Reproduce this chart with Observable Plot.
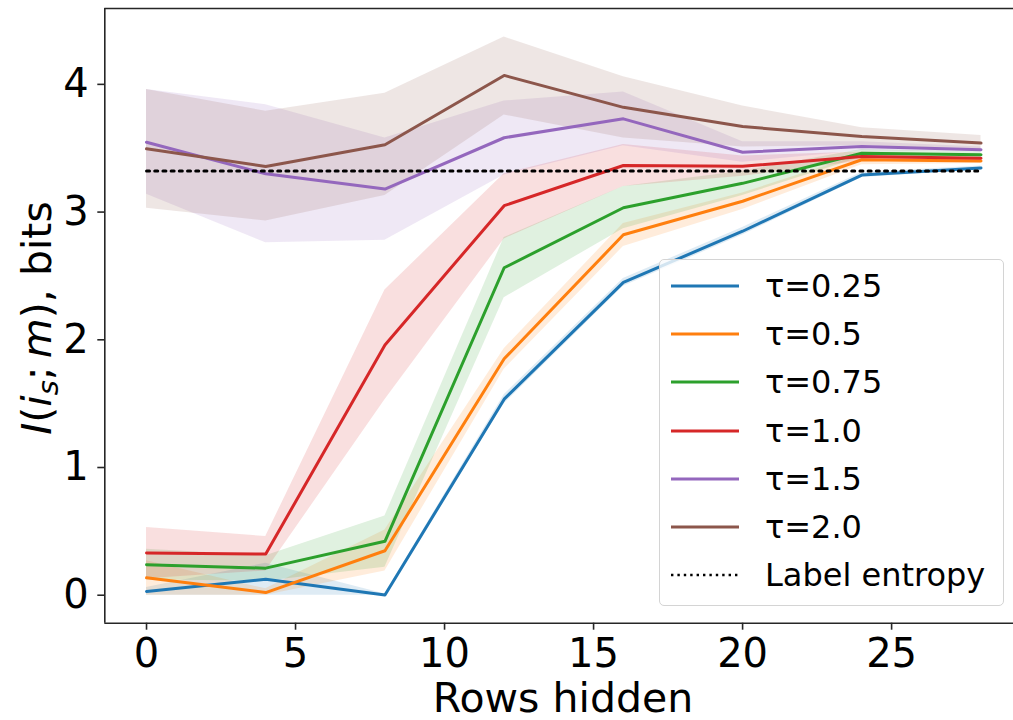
<!DOCTYPE html>
<html>
<head>
<meta charset="utf-8">
<script src="https://cdn.jsdelivr.net/npm/d3@7"></script>
<script src="https://cdn.jsdelivr.net/npm/@observablehq/plot@0.6"></script>
<style>
  body { margin: 0; background: white; }
  #wrap { position: relative; width: 1013px; height: 720px; font-family: "DejaVu Sans", sans-serif; }
  #legend { position: absolute; left: 659px; top: 259px; width: 345px; height: 347px; box-sizing: border-box;
    border: 1.5px solid #d4d4d4; border-radius: 5px; background: rgba(255,255,255,0.8);
    font-family: "DejaVu Sans", sans-serif; font-size: 32px; color: #000; }
  .row { position: absolute; left: 0; height: 48px; display: flex; align-items: center; }
  .row svg { margin-left: 11px; }
  .row span { position: absolute; left: 105px; white-space: nowrap; }
</style>
</head>
<body>
<div id="wrap"></div>
<script>
// Rows hidden (x positions)
const rowsHidden = [0, 4, 8, 12, 16, 20, 24, 28];
const xTicks = [0, 5, 10, 15, 20, 25];
const yTicks = [0, 1, 2, 3, 4];
const labelEntropy = 3.3219;

const tauLabels = ["τ=0.25", "τ=0.5", "τ=0.75", "τ=1.0", "τ=1.5", "τ=2.0"];
const tauColors = ["#1f77b4", "#ff7f0e", "#2ca02c", "#d62728", "#9467bd", "#8c564b"];

// mean values
const mean025 = [0.030, 0.125, 0.002, 1.535, 2.450, 2.850, 3.290, 3.345];
const mean05  = [0.136, 0.021, 0.348, 1.851, 2.822, 3.085, 3.410, 3.400];
const mean075 = [0.238, 0.212, 0.422, 2.564, 3.034, 3.225, 3.461, 3.449];
const mean10  = [0.330, 0.322, 1.960, 3.050, 3.365, 3.358, 3.435, 3.422];
const mean15  = [3.547, 3.300, 3.180, 3.582, 3.730, 3.469, 3.514, 3.488];
const mean20  = [3.496, 3.357, 3.527, 4.070, 3.820, 3.670, 3.592, 3.540];

// band lower / upper
const lo025 = [0.00, 0.00, 0.00, 1.50, 2.42, 2.82, 3.27, 3.33];
const hi025 = [0.06, 0.25, 0.01, 1.57, 2.48, 2.88, 3.31, 3.36];
const lo05  = [0.00, 0.00, 0.19, 1.77, 2.73, 3.02, 3.37, 3.38];
const hi05  = [0.27, 0.05, 0.51, 1.93, 2.91, 3.15, 3.45, 3.42];
const lo075 = [0.12, 0.11, 0.22, 2.33, 2.87, 3.13, 3.43, 3.43];
const hi075 = [0.36, 0.31, 0.62, 2.80, 3.20, 3.32, 3.49, 3.47];
const lo10  = [0.13, 0.19, 1.53, 2.79, 3.20, 3.28, 3.40, 3.40];
const hi10  = [0.53, 0.46, 2.39, 3.30, 3.53, 3.44, 3.47, 3.45];
const lo15  = [3.14, 2.76, 2.78, 3.29, 3.52, 3.39, 3.48, 3.47];
const hi15  = [3.96, 3.84, 3.58, 3.87, 3.94, 3.55, 3.55, 3.51];
const lo20  = [3.03, 2.93, 3.13, 3.76, 3.58, 3.51, 3.52, 3.48];
const hi20  = [3.96, 3.79, 3.93, 4.37, 4.06, 3.83, 3.66, 3.60];

const means = [mean025, mean05, mean075, mean10, mean15, mean20];
const los = [lo025, lo05, lo075, lo10, lo15, lo20];
const his = [hi025, hi05, hi075, hi10, hi15, hi20];

const series = tauLabels.map((label, k) => ({
  label, color: tauColors[k],
  data: rowsHidden.map((x, i) => ({x, mean: means[k][i], lo: los[k][i], hi: his[k][i]}))
}));
const entropyData = [rowsHidden[0], rowsHidden[rowsHidden.length - 1]].map(x => ({x, y: labelEntropy}));

const xDomain = [-1.4, 29.09];
const yDomain = [-0.219, 4.594];
const axisColor = "#262626";

const chart = Plot.plot({
  width: 1013,
  height: 720,
  marginLeft: 104.3,
  marginRight: 0,
  marginTop: 8,
  marginBottom: 97.3,
  style: {fontFamily: "DejaVu Sans, sans-serif", background: "white", color: "#000", overflow: "visible"},
  x: {domain: xDomain},
  y: {domain: yDomain},
  marks: [
    ...series.map(s => Plot.areaY(s.data, {x: "x", y1: "lo", y2: "hi", fill: s.color, fillOpacity: 0.15, curve: "linear"})),
    ...series.map(s => Plot.lineY(s.data, {x: "x", y: "mean", stroke: s.color, strokeWidth: 3, curve: "linear"})),
    Plot.lineY(entropyData, {x: "x", y: "y", stroke: "black", strokeWidth: 3, strokeDasharray: "3,5.2"}),
    Plot.ruleX([xDomain[0]], {stroke: axisColor, strokeWidth: 1.6}),
    Plot.ruleY([yDomain[0], yDomain[1]], {stroke: axisColor, strokeWidth: 1.6}),
    Plot.axisX({ticks: xTicks, tickSize: 7, tickPadding: 8, fontSize: 40, label: null, stroke: axisColor, strokeWidth: 1.6, tickFormat: d => String(d)}),
    Plot.axisY({ticks: yTicks, tickSize: 7, tickPadding: 9, fontSize: 40, label: null, stroke: axisColor, strokeWidth: 1.6, tickFormat: d => String(d)})
  ]
});

const wrap = document.getElementById("wrap");
wrap.appendChild(chart);

// axis titles
const svg = d3.select(chart);
svg.append("text")
  .attr("x", 563).attr("y", 712)
  .attr("text-anchor", "middle")
  .style("font-size", "41px").style("font-family", "DejaVu Sans, sans-serif")
  .attr("fill", "black")
  .text("Rows hidden");

const yl = svg.append("text")
  .attr("transform", "translate(51,318) rotate(-90)")
  .attr("text-anchor", "middle")
  .style("font-size", "41px").style("font-family", "DejaVu Sans, sans-serif")
  .attr("fill", "black");
yl.append("tspan").style("font-style", "italic").text("I");
yl.append("tspan").text("(");
yl.append("tspan").style("font-style", "italic").text("i");
yl.append("tspan").style("font-style", "italic").style("font-size", "29px").attr("dy", "7").text("s");
yl.append("tspan").attr("dy", "-7").text(";\u2009");
yl.append("tspan").style("font-style", "italic").text("m");
yl.append("tspan").text("), bits");

// legend
const legend = document.createElement("div");
legend.id = "legend";
const rowH = 48.2;
const entries = series.map(s => ({label: s.label, color: s.color, dash: null}))
  .concat([{label: "Label entropy", color: "black", dash: "2.4,4"}]);
entries.forEach((e, i) => {
  const row = document.createElement("div");
  row.className = "row";
  row.style.top = (2 + i * rowH) + "px";
  row.innerHTML = `<svg width="68" height="6"><line x1="0" x2="68" y1="3" y2="3" stroke="${e.color}" stroke-width="${e.dash ? 2.4 : 3}" ${e.dash ? `stroke-dasharray="${e.dash}"` : ""}/></svg><span>${e.label}</span>`;
  legend.appendChild(row);
});
wrap.appendChild(legend);
</script>
</body>
</html>
